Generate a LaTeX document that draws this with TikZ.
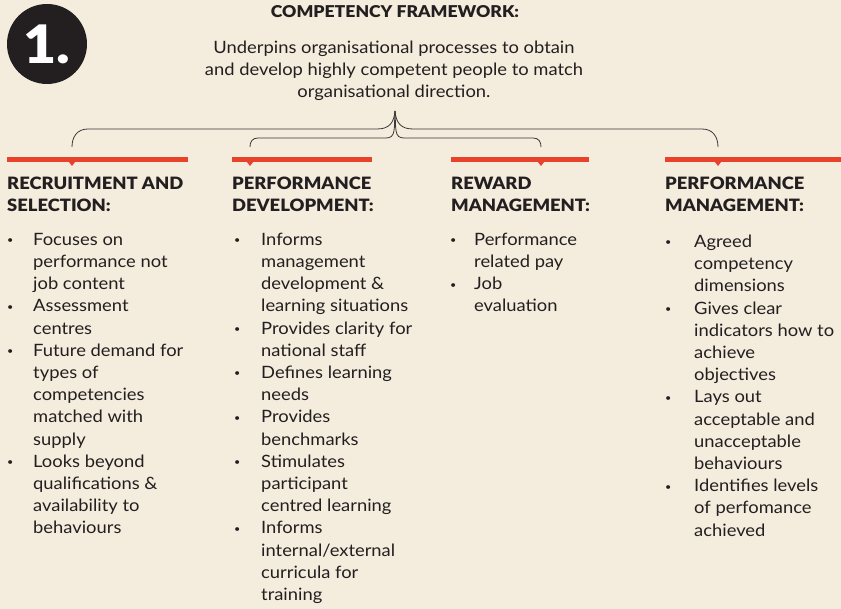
\documentclass[tikz,border=0pt]{standalone}
\usepackage{fontspec}
\setmainfont{Lato}[FakeStretch=1.08, BoldFont={Lato Black}]
\usetikzlibrary{positioning, calc}

\definecolor{cream}{HTML}{F4ECDD}
\definecolor{ink}{HTML}{231F20}
\definecolor{flame}{HTML}{E8432A}
\definecolor{wire}{HTML}{3A3636}

\newcommand{\dotmark}{\makebox[6pt][c]{\fontsize{10}{10}\selectfont\raisebox{1.5pt}{\textbullet}}}

\tikzset{
  heading/.style={anchor=base west, align=left, inner sep=0pt, text=ink,
    font=\fontsize{17}{22}\selectfont\bfseries},
  itemlist/.style={anchor=base west, inner sep=0pt, text=ink,
    font=\fontsize{17}{22.2}\selectfont},
  brace/.style={draw=wire, line width=0.8pt},
}

\begin{document}
\begin{tikzpicture}[x=1pt, y=-1pt]
    \fill[cream] (0,0) rectangle (841,609);
    \useasboundingbox (0,0) rectangle (841,609);

    % number badge and intro text
    \node[circle, fill=ink, minimum size=80pt, inner sep=0pt, text=white,
          font=\fontsize{53}{53}\selectfont\bfseries] (badge) at (47,44) {1.};
    \node[anchor=base, inner sep=0pt, text=ink,
          font=\fontsize{16.3}{18}\selectfont\bfseries] (title) at (395,17.3) {COMPETENCY FRAMEWORK:};
    % base of a multi-line node sits on its last line
    \node[anchor=base, align=center, inner sep=0pt, text=ink,
          font=\fontsize{17}{22}\selectfont] (summary) at (394,98)
          {Underpins organisational processes to obtain\\
           and develop highly competent people to match\\
           organisational direction.};
    \coordinate (apex) at (395,111);

    % red bars with their notches
    \foreach \xa/\xb/\xn/\name in {7/188/72/rs, 232/372/250/pd, 451/589/541/rm, 665/841/718/pm} {
        \fill[flame] (\xa,157) rectangle (\xb,162);
        \fill[flame] ({\xn-3.5},161.5) -- ({\xn+3.5},161.5) -- (\xn,166) -- cycle;
        \coordinate (\name-tip) at (\xn,147);
    }

    % brackets from the summary down to each area
    \draw[brace] (apex) .. controls +(-1,12) and +(12,0) .. (377,129) -- (88,129)
                 .. controls +(-11,0) and +(0,-10) .. (rs-tip);
    \draw[brace] (apex) .. controls +(1,12) and +(-12,0) .. (413,129) -- (702,129)
                 .. controls +(11,0) and +(0,-10) .. (pm-tip);
    \draw[brace] (apex) .. controls +(-1,18) and +(10,0) .. (386,138) -- (258,138)
                 .. controls +(-6,0) and +(0,-5) .. (pd-tip);
    \draw[brace] (apex) .. controls +(1,18) and +(-10,0) .. (404,138) -- (533,138)
                 .. controls +(6,0) and +(0,-5) .. (rm-tip);

    % area headings
    \node[heading] (rs) at (7,212) {RECRUITMENT AND\\SELECTION:};
    \node[heading] (pd) at (232,212) {PERFORMANCE\\DEVELOPMENT:};
    \node[heading] (rm) at (451,212) {REWARD\\MANAGEMENT:};
    \node[heading] (pm) at (665,212) {PERFORMANCE\\MANAGEMENT:};

    % bullet lists
    \node[itemlist] (rs-list) at (7,245.3) {\begin{tabular}[t]{@{}p{26pt}@{}l@{}}
        \dotmark & Focuses on\\ & performance not\\ & job content\\
        \dotmark & Assessment\\ & centres\\
        \dotmark & Future demand for\\ & types of\\ & competencies\\ & matched with\\ & supply\\
        \dotmark & Looks beyond\\ & qualifications \&\\ & availability to\\ & behaviours
    \end{tabular}};
    \node[itemlist] (pd-list) at (234,245.3) {\begin{tabular}[t]{@{}p{27pt}@{}l@{}}
        \dotmark & Informs\\ & management\\ & development \&\\ & learning situations\\
        \dotmark & Provides clarity for\\ & national staff\\
        \dotmark & Defines learning\\ & needs\\
        \dotmark & Provides\\ & benchmarks\\
        \dotmark & Stimulates\\ & participant\\ & centred learning\\
        \dotmark & Informs\\ & internal/external\\ & curricula for\\ & training
    \end{tabular}};
    \node[itemlist] (rm-list) at (450,245.3) {\begin{tabular}[t]{@{}p{24pt}@{}l@{}}
        \dotmark & Performance\\ & related pay\\
        \dotmark & Job\\ & evaluation
    \end{tabular}};
    \node[itemlist] (pm-list) at (665,247.5) {\begin{tabular}[t]{@{}p{29pt}@{}l@{}}
        \dotmark & Agreed\\ & competency\\ & dimensions\\
        \dotmark & Gives clear\\ & indicators how to\\ & achieve\\ & objectives\\
        \dotmark & Lays out\\ & acceptable and\\ & unacceptable\\ & behaviours\\
        \dotmark & Identifies levels\\ & of perfomance\\ & achieved
    \end{tabular}};
\end{tikzpicture}
\end{document}
